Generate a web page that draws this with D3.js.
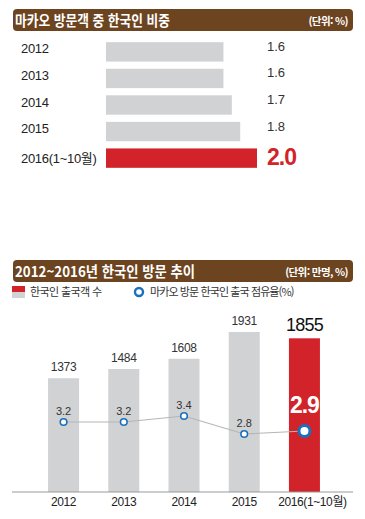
<!DOCTYPE html>
<html lang="ko">
<head>
<meta charset="utf-8">
<script src="https://d3js.org/d3.v7.min.js"></script>
<style>
  body { margin: 0; background: #fff; }
  text { font-family: "Liberation Sans", "Noto Sans CJK KR", sans-serif; }
  .kr { font-family: "Noto Sans CJK KR", "Liberation Sans", sans-serif; }
</style>
</head>
<body>
<script>
// top chart: share of Korean visitors in Macau
var shareYears = ["2012", "2013", "2014", "2015", "2016(1~10월)"];
var shareValues = [1.6, 1.6, 1.7, 1.8, 2.0];

// bottom chart: Korean departures to Macau (10k) and share (%)
var trendYears = ["2012", "2013", "2014", "2015", "2016(1~10월)"];
var visitors = [1373, 1484, 1608, 1931, 1855];
var sharePct = [3.2, 3.2, 3.4, 2.8, 2.9];

var brown = "#6d4420", red = "#d2232a", gray = "#d1d2d4", blue = "#1a70bd";

var svg = d3.select("body").append("svg")
    .attr("width", 365).attr("height", 519);

function header(y, title, unit, len) {
    svg.append("rect").attr("x", 13).attr("y", y).attr("width", 340).attr("height", 22)
        .attr("rx", 4).attr("fill", brown);
    svg.append("text").attr("class", "kr").attr("x", 15).attr("y", y + 16.5)
        .attr("fill", "#fff").attr("font-size", 15).attr("font-weight", "bold")
        .attr("textLength", len).attr("lengthAdjust", "spacingAndGlyphs")
        .text(title);
    svg.append("text").attr("class", "kr").attr("x", 348).attr("y", y + 15.5)
        .attr("text-anchor", "end").attr("fill", "#fff").attr("font-size", 10.5)
        .attr("font-weight", "bold").attr("letter-spacing", -0.6).text(unit);
}

// ---- top chart ----
header(9, "마카오 방문객 중 한국인 비중", "(단위: %)", 155);

var x1 = d3.scaleLinear().domain([0.2, 2.0]).range([106, 257]);
var y1 = d3.scaleBand().domain(shareYears).range([39, 171]).paddingInner(0.27).paddingOuter(0.12);

var gTop = svg.append("g");
gTop.selectAll("rect.bar").data(shareValues).enter().append("rect")
    .attr("x", x1(0.2))
    .attr("y", function (d, i) { return y1(shareYears[i]); })
    .attr("width", function (d) { return x1(d) - x1(0.2); })
    .attr("height", y1.bandwidth())
    .attr("fill", function (d, i) { return i == 4 ? red : gray; });

gTop.selectAll("text.yr").data(shareYears).enter().append("text")
    .attr("x", 21)
    .attr("y", function (d, i) { return y1(d) + y1.bandwidth() / 2 + (i == 4 ? 4.5 : 1.5); })
    .attr("font-size", 13).attr("fill", "#222")
    .attr("letter-spacing", -0.3)
    .text(function (d) { return d; });

gTop.selectAll("text.val").data(shareValues).enter().append("text")
    .attr("x", 267)
    .attr("y", function (d, i) { return y1(shareYears[i]) + y1.bandwidth() / 2 + (i == 4 ? 7 : -1); })
    .attr("font-size", function (d, i) { return i == 4 ? 23 : 13; })
    .attr("font-weight", function (d, i) { return i == 4 ? "bold" : "normal"; })
    .attr("letter-spacing", function (d, i) { return i == 4 ? -1 : 0; })
    .attr("fill", function (d, i) { return i == 4 ? red : "#333"; })
    .text(function (d) { return d.toFixed(1); });

// ---- bottom chart ----
header(260, "2012~2016년 한국인 방문 추이", "(단위: 만명, %)", 180);

// legend
svg.append("rect").attr("x", 12).attr("y", 286).attr("width", 13).attr("height", 6).attr("fill", red);
svg.append("rect").attr("x", 12).attr("y", 292).attr("width", 13).attr("height", 6).attr("fill", gray);
svg.append("text").attr("class", "kr").attr("x", 30).attr("y", 296).attr("font-size", 11)
    .attr("fill", "#333").attr("letter-spacing", -0.6).text("한국인 출국객 수");
svg.append("circle").attr("cx", 139).attr("cy", 292).attr("r", 4)
    .attr("fill", "#fff").attr("stroke", blue).attr("stroke-width", 2.4);
svg.append("text").attr("class", "kr").attr("x", 150).attr("y", 296).attr("font-size", 11)
    .attr("fill", "#333").attr("letter-spacing", -0.9).text("마카오 방문 한국인 출국 점유율(%)");

var x2 = d3.scaleBand().domain(trendYears).range([33, 335]).paddingInner(0.485).paddingOuter(0.25);
var y2 = d3.scaleLinear().domain([0, 1931]).range([492, 332]);
var yl = d3.scaleLinear().domain([2.8, 3.4]).range([434, 416]);

var bot = svg.append("g");
bot.selectAll("rect.bar").data(visitors).enter().append("rect")
    .attr("x", function (d, i) { return x2(trendYears[i]); })
    .attr("y", function (d) { return y2(d); })
    .attr("width", x2.bandwidth())
    .attr("height", function (d) { return y2(0) - y2(d); })
    .attr("fill", function (d, i) { return i == 4 ? red : gray; });

bot.selectAll("text.val").data(visitors).enter().append("text")
    .attr("x", function (d, i) { return x2(trendYears[i]) + x2.bandwidth() / 2; })
    .attr("y", function (d, i) { return y2(d) - 7; })
    .attr("text-anchor", "middle")
    .attr("font-size", function (d, i) { return i == 4 ? 18 : 12; })
    .attr("letter-spacing", function (d, i) { return i == 4 ? -0.8 : -0.3; })
    .attr("fill", function (d, i) { return i == 4 ? "#111" : "#333"; })
    .text(function (d) { return d; });

// axis baseline
svg.append("line").attr("x1", 12).attr("x2", 353).attr("y1", y2(0)).attr("y2", y2(0))
    .attr("stroke", "#999").attr("stroke-width", 1);

var xAxis = d3.axisBottom(x2).tickSize(0).tickPadding(5);
var ax = svg.append("g").attr("transform", "translate(0," + y2(0) + ")").call(xAxis);
ax.select(".domain").remove();
ax.selectAll("text").attr("font-size", 12).attr("fill", "#222")
    .attr("font-family", "Liberation Sans, Noto Sans CJK KR, sans-serif")
    .attr("letter-spacing", -0.4)
    .attr("dx", function (d, i) { return i == 4 ? 8 : 0; });

// share line
var cx = function (d, i) { return x2(trendYears[i]) + x2.bandwidth() / 2; };
var line = d3.line().x(cx).y(function (d) { return yl(d); });
bot.append("path").datum(sharePct).attr("d", line)
    .attr("fill", "none").attr("stroke", "#b5b5b5").attr("stroke-width", 1.2);

bot.selectAll("circle.pt").data(sharePct).enter().append("circle")
    .attr("cx", cx).attr("cy", function (d) { return yl(d); })
    .attr("r", function (d, i) { return i == 4 ? 5.5 : 3.3; })
    .attr("fill", "#fff").attr("stroke", blue)
    .attr("stroke-width", function (d, i) { return i == 4 ? 3 : 1.6; });

bot.selectAll("text.pct").data(sharePct).enter().append("text")
    .attr("x", cx)
    .attr("y", function (d, i) { return i == 4 ? 413 : yl(d) - 7.5; })
    .attr("text-anchor", "middle")
    .attr("font-size", function (d, i) { return i == 4 ? 23 : 11; })
    .attr("font-weight", function (d, i) { return i == 4 ? "bold" : "normal"; })
    .attr("letter-spacing", function (d, i) { return i == 4 ? -1 : 0; })
    .attr("fill", function (d, i) { return i == 4 ? "#fff" : "#333"; })
    .text(function (d) { return d.toFixed(1); });
</script>
</body>
</html>
